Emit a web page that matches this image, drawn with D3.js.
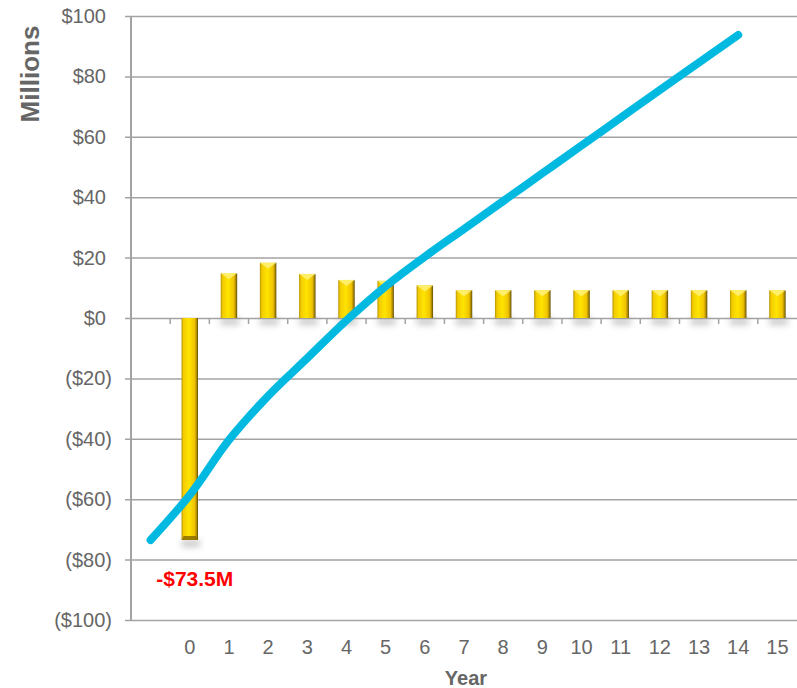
<!DOCTYPE html>
<html lang="en">
<head>
<meta charset="UTF-8">
<title>Cash flow</title>
<script src="https://cdn.jsdelivr.net/npm/d3@7"></script>
<style>
  body { margin: 0; background: #fff; }
  svg { display: block; font-family: "Liberation Sans", Arial, Helvetica, sans-serif; }
  .tick-label { fill: #666; font-size: 20px; }
  .axis-title { fill: #666; font-size: 20px; font-weight: bold; }
</style>
</head>
<body>
<script>
// categories on the x axis (first slot is empty, the line starts there)
var categories = ["", "0", "1", "2", "3", "4", "5", "6", "7", "8", "9", "10", "11", "12", "13", "14", "15"]
// yearly cash flow bars, $M
var years = ["0", "1", "2", "3", "4", "5", "6", "7", "8", "9", "10", "11", "12", "13", "14", "15"]
var cashFlow = [-73.5, 14.8, 18.3, 14.6, 12.6, 12.3, 10.8, 9.2, 9.2, 9.2, 9.2, 9.2, 9.2, 9.2, 9.2, 9.2]
// cumulative line, $M
var lineCats = ["", "0", "1", "2", "3", "4", "5", "6", "7", "8", "9", "10", "11", "12", "13", "14"]
var cumulative = [-73.5, -58.6, -40.4, -25.8, -13.3, -0.8, 10.5, 20.3, 29.5, 38.7, 47.9, 57.1, 66.3, 75.5, 84.6, 93.7]
var yTicks = [100, 80, 60, 40, 20, 0, -20, -40, -60, -80, -100]
var firstLabel = "-$73.5M"

var width = 797
var height = 688

var svg = d3.select("body").append("svg")
    .attr("width", width)
    .attr("height", height)

var defs = svg.append("defs")

// gold bar: darker sides, bright middle
var grad = defs.append("linearGradient").attr("id", "gold")
    .attr("x1", "0%").attr("x2", "100%").attr("y1", "0%").attr("y2", "0%")
grad.selectAll("stop")
    .data([["0%", "#b89400"], ["12%", "#f2cc00"], ["45%", "#ffe400"], ["80%", "#f0c400"], ["92%", "#a88600"], ["100%", "#5c4a00"]])
    .enter().append("stop")
    .attr("offset", function(d) { return d[0] })
    .attr("stop-color", function(d) { return d[1] })

var shadow = defs.append("filter").attr("id", "blur")
    .attr("x", "-50%").attr("y", "-100%").attr("width", "200%").attr("height", "300%")
shadow.append("feGaussianBlur").attr("stdDeviation", 3)

var x = d3.scaleBand()
    .domain(categories)
    .range([131, 797])

var y = d3.scaleLinear()
    .domain([-100, 100])
    .range([620, 16])

var barW = x.bandwidth() * 0.42

// grid lines + y axis ticks
var yAxis = d3.axisLeft(y)
    .tickValues(yTicks)
    .tickSize(-(797 - 131))
    .tickSizeOuter(0)
    .tickPadding(0)
    .tickFormat("")

var gy = svg.append("g")
    .attr("transform", "translate(131,0)")
    .call(yAxis)
gy.select(".domain").remove()
gy.selectAll(".tick line")
    .attr("x1", -6)
    .attr("stroke", "#a3a3a3")
    .attr("stroke-width", 1.5)

// y tick labels, accounting style: negatives in brackets, positives padded for ")"
svg.append("g").selectAll("text")
    .data(yTicks)
    .enter().append("text")
    .attr("class", "tick-label")
    .attr("text-anchor", "end")
    .attr("x", function(d) { return d < 0 ? 112 : 106 })
    .attr("y", function(d) { return y(d) })
    .attr("dy", "0.35em")
    .text(function(d) { return d < 0 ? "($" + Math.abs(d) + ")" : "$" + d })

// vertical axis line
svg.append("line")
    .attr("x1", 131).attr("x2", 131)
    .attr("y1", y(100)).attr("y2", y(-100))
    .attr("stroke", "#a3a3a3")
    .attr("stroke-width", 2)

// small ticks on the zero line between categories
svg.append("g").selectAll("line")
    .data(categories.slice(1))
    .enter().append("line")
    .attr("x1", function(d) { return x(d) })
    .attr("x2", function(d) { return x(d) })
    .attr("y1", y(0))
    .attr("y2", y(0) + 6)
    .attr("stroke", "#a3a3a3")
    .attr("stroke-width", 1.5)

// x labels
svg.append("g").selectAll("text")
    .data(years)
    .enter().append("text")
    .attr("class", "tick-label")
    .attr("text-anchor", "middle")
    .attr("x", function(d) { return x(d) + x.bandwidth() / 2 })
    .attr("y", 654)
    .text(function(d) { return d })

// bars
var bars = svg.append("g").selectAll("g")
    .data(years.map(function(d, i) { return { year: d, v: cashFlow[i] } }))
    .enter().append("g")
    .attr("transform", function(d) { return "translate(" + (x(d.year) + x.bandwidth() / 2 - barW / 2) + ",0)" })

bars.append("rect")
    .attr("x", 0)
    .attr("width", barW + 2)
    .attr("y", function(d) { return d.v >= 0 ? y(0) : y(d.v) })
    .attr("height", 7)
    .attr("fill", "#888")
    .attr("opacity", 0.45)
    .attr("filter", "url(#blur)")

bars.append("rect")
    .attr("y", function(d) { return y(Math.max(0, d.v)) })
    .attr("height", function(d) { return Math.abs(y(d.v) - y(0)) })
    .attr("width", barW)
    .attr("fill", "url(#gold)")

// pyramid bevel on the outer end of each bar
bars.append("path")
    .attr("d", function(d) {
        var b = 6
        if (d.v >= 0) {
            var t = y(d.v)
            return "M0," + t + "L" + barW + "," + t + "L" + (barW / 2) + "," + (t + b) + "Z"
        }
        var e = y(d.v)
        return "M0," + e + "L" + barW + "," + e + "L" + (barW - 2) + "," + (e - 4) + "L2," + (e - 4) + "Z"
    })
    .attr("fill", function(d) { return d.v >= 0 ? "#fff27a" : "#8a6c00" })
    .attr("opacity", 0.85)

// cumulative line
var line = d3.line()
    .x(function(d, i) { return x(lineCats[i]) + x.bandwidth() / 2 })
    .y(function(d) { return y(d) })
    .curve(d3.curveCatmullRom)

svg.append("path")
    .datum(cumulative)
    .attr("d", line)
    .attr("fill", "none")
    .attr("stroke", "#00b9e1")
    .attr("stroke-width", 8)
    .attr("stroke-linecap", "round")
    .attr("stroke-linejoin", "round")

// initial investment label
svg.append("text")
    .attr("x", x("0") + x.bandwidth() / 2 + 5)
    .attr("y", 586)
    .attr("text-anchor", "middle")
    .attr("fill", "#ff0000")
    .attr("font-size", "21px")
    .attr("font-weight", "bold")
    .text(firstLabel)

// axis titles
svg.append("text")
    .attr("class", "axis-title")
    .attr("transform", "translate(39,74) rotate(-90)")
    .attr("text-anchor", "middle")
    .style("font-size", "26px")
    .text("Millions")

svg.append("text")
    .attr("class", "axis-title")
    .attr("x", 466)
    .attr("y", 685)
    .attr("text-anchor", "middle")
    .text("Year")
</script>
</body>
</html>
